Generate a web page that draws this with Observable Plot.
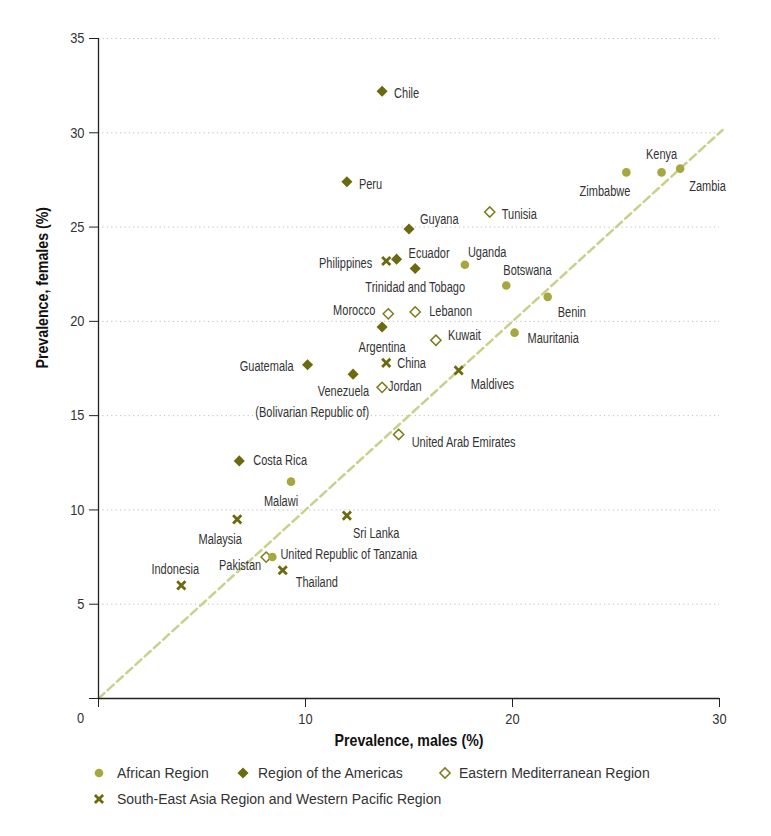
<!DOCTYPE html>
<html>
<head>
<meta charset="utf-8">
<script src="https://cdn.jsdelivr.net/npm/d3@7"></script>
<script src="https://cdn.jsdelivr.net/npm/@observablehq/plot@0.6"></script>
<style>
  body { margin: 0; background: #fff; }
  #wrap { position: relative; width: 771px; height: 836px; }
  .leg { position: absolute; font-family: "Liberation Sans", Arial, sans-serif; font-size: 14px; color: #333; line-height: 16px; white-space: nowrap; }
</style>
</head>
<body>
<div id="wrap"></div>
<script>
// ---- data ----
const regions = ["African Region", "Region of the Americas", "Eastern Mediterranean Region", "South-East Asia Region and Western Pacific Region"];

const africanCountries = ["Zimbabwe", "Kenya", "Zambia", "Uganda", "Botswana", "Benin", "Mauritania", "Malawi", "United Republic of Tanzania"];
const africanMales     = [25.5, 27.2, 28.1, 17.7, 19.7, 21.7, 20.1, 9.3, 8.4];
const africanFemales   = [27.9, 27.9, 28.1, 23.0, 21.9, 21.3, 19.4, 11.5, 7.5];

const americasCountries = ["Chile", "Peru", "Guyana", "Ecuador", "Trinidad and Tobago", "Argentina", "Guatemala", "Venezuela\n(Bolivarian Republic of)", "Costa Rica"];
const americasMales     = [13.7, 12.0, 15.0, 14.4, 15.3, 13.7, 10.1, 12.3, 6.8];
const americasFemales   = [32.2, 27.4, 24.9, 23.3, 22.8, 19.7, 17.7, 17.2, 12.6];

const emrCountries = ["Tunisia", "Morocco", "Lebanon", "Kuwait", "Jordan", "United Arab Emirates", "Pakistan"];
const emrMales     = [18.9, 14.0, 15.3, 16.3, 13.7, 14.5, 8.1];
const emrFemales   = [25.8, 20.4, 20.5, 19.0, 16.5, 14.0, 7.5];

const seaCountries = ["Philippines", "China", "Maldives", "Sri Lanka", "Malaysia", "Thailand", "Indonesia"];
const seaMales     = [13.9, 13.9, 17.4, 12.0, 6.7, 8.9, 4.0];
const seaFemales   = [23.2, 17.8, 17.4, 9.7, 9.5, 6.8, 6.0];

const yTicks = [5, 10, 15, 20, 25, 30, 35];
const xTicks = [10, 20, 30];
const xLabel = "Prevalence, males (%)";
const yLabel = "Prevalence, females (%)";

// ---- label placement (offset px from point, text anchor) ----
const labelPlacement = {
  "Chile": [12, 0, "start"], "Peru": [12, 0, "start"], "Guyana": [11, -12, "start"],
  "Ecuador": [12, -8, "start"], "Philippines": [-14, 0, "end"], "Trinidad and Tobago": [0, 17, "middle"],
  "Uganda": [3, -14, "start"], "Botswana": [-3, -17, "start"], "Zimbabwe": [4, 17, "end"],
  "Kenya": [0, -20, "middle"], "Zambia": [9, 16, "start"], "Benin": [10, 13, "start"],
  "Mauritania": [13, 4, "start"], "Tunisia": [12, 0, "start"], "Morocco": [-13, -6, "end"],
  "Lebanon": [14, -3, "start"], "Argentina": [0, 18, "middle"], "Kuwait": [12, -7, "start"],
  "Guatemala": [-14, 0, "end"], "China": [11, -2, "start"], "Jordan": [6, -3, "start"],
  "Venezuela\n(Bolivarian Republic of)": [16, 25.5, "end"], "Maldives": [12, 12, "start"],
  "United Arab Emirates": [13, 6, "start"], "Costa Rica": [14, -3, "start"],
  "Malawi": [-10, 18, "middle"], "Malaysia": [-17, 18, "middle"], "Sri Lanka": [6, 16, "start"],
  "Pakistan": [-5, 6, "end"], "United Republic of Tanzania": [8, -5, "start"],
  "Thailand": [13, 10, "start"], "Indonesia": [-6, -18, "middle"]
};

// ---- build table ----
function rows(names, xs, ys, region) {
  return names.map((n, i) => ({country: n, males: xs[i], females: ys[i], region}));
}
const afr = rows(africanCountries, africanMales, africanFemales, regions[0]);
const amr = rows(americasCountries, americasMales, americasFemales, regions[1]);
const emr = rows(emrCountries, emrMales, emrFemales, regions[2]);
const sea = rows(seaCountries, seaMales, seaFemales, regions[3]);
const all = [...afr, ...amr, ...emr, ...sea];

const colAfr = "#a6a83f";
const colDark = "#6b6a0f";
const colEmr = "#7c7c1c";
const font = "'Liberation Sans', Arial, sans-serif";

// Plot's dx/dy are constants per mark, so group labels by offset
const offsetGroups = d3.groups(all, d => labelPlacement[d.country].join("|"));
const labels = offsetGroups.map(([key, arr]) => {
  const [dx, dy, anchor] = labelPlacement[arr[0].country];
  return Plot.text(arr, {
    x: "males", y: "females", text: "country",
    dx: +dx, dy: +dy, textAnchor: anchor,
    fill: "#333", fontSize: 15.5, lineHeight: 1.35
  });
});

const chart = Plot.plot({
  width: 771,
  height: 758,
  marginLeft: 98,
  marginRight: 52,
  marginTop: 38,
  marginBottom: 60,
  style: {fontFamily: font, fontSize: "15px", color: "#333", background: "#fff"},
  x: {domain: [0, 30]},
  y: {domain: [0, 35]},
  marks: [
    Plot.ruleY(yTicks, {stroke: "#bdbdbd", strokeDasharray: "1.2,3.2", strokeWidth: 1}),
    Plot.line([[0, 0], [30.15, 30.15]], {stroke: "#c8d18c", strokeWidth: 2.5, strokeDasharray: "8,4.5"}),
    Plot.axisY([0, ...yTicks], {tickSize: 9, tickPadding: 5, tickFormat: d => d === 0 ? "" : d, label: null, stroke: "#222", fill: "#333", fontSize: 15}),
    Plot.axisX([0, ...xTicks], {tickSize: 9, tickPadding: 6, tickFormat: d => d === 0 ? "" : d, label: null, stroke: "#222", fill: "#333", fontSize: 15}),
    Plot.ruleX([0], {stroke: "#222", strokeWidth: 1.3}),
    Plot.ruleY([0], {stroke: "#222", strokeWidth: 1.3}),
    Plot.text([0], {x: 0, y: 0, text: d => String(d), dx: -18, dy: 19.5, fill: "#333", fontSize: 15}),
    Plot.text([xLabel], {frameAnchor: "bottom", dy: 47, text: d => d, fontWeight: "bold", fontSize: 16.5, fill: "#111"}),
    Plot.text([yLabel], {frameAnchor: "left", dx: -56, rotate: -90, text: d => d, fontWeight: "bold", fontSize: 16.5, fill: "#111"}),
    Plot.dot(emr, {x: "males", y: "females", symbol: "diamond2", r: 4.6, stroke: colEmr, strokeWidth: 1.5, fill: "#fff"}),
    Plot.dot(afr, {x: "males", y: "females", symbol: "circle", r: 4.3, fill: colAfr}),
    Plot.dot(amr, {x: "males", y: "females", symbol: "diamond2", r: 5, fill: colDark}),
    Plot.dot(sea, {x: "males", y: "females", symbol: "times", r: 3.8, stroke: colDark, strokeWidth: 2.8}),
    ...labels
  ]
});

// mimic the condensed typeface of the original by narrowing text horizontally
const countrySet = new Set(all.map(d => d.country.replace("\n", "")));
chart.querySelectorAll("text").forEach(t => {
  const content = t.textContent;
  const s = countrySet.has(content) ? 0.71 : 0.86;
  let tr = t.getAttribute("transform");
  if (!tr) {
    const x = t.getAttribute("x") || 0, y = t.getAttribute("y") || 0;
    t.removeAttribute("x"); t.removeAttribute("y");
    tr = `translate(${x},${y})`;
  }
  t.setAttribute("transform", tr + ` scale(${s},1)`);
});

const wrap = document.getElementById("wrap");
wrap.appendChild(chart);

// ---- legend (HTML below the SVG) ----
const legendItems = [
  {label: regions[0], cx: 99, cy: 773, tx: 117, sym: "circle", fill: colAfr, stroke: "none", sw: 0, r: 4.3},
  {label: regions[1], cx: 243, cy: 773, tx: 258, sym: "diamond2", fill: colDark, stroke: "none", sw: 0, r: 5},
  {label: regions[2], cx: 445, cy: 773, tx: 459, sym: "diamond2", fill: "#fff", stroke: colEmr, sw: 1.5, r: 4.6},
  {label: regions[3], cx: 99, cy: 799, tx: 117, sym: "times", fill: "none", stroke: colDark, sw: 2.8, r: 3.8}
];
const symMap = {circle: d3.symbolCircle, diamond2: d3.symbolDiamond2, times: d3.symbolTimes};
for (const it of legendItems) {
  const s = d3.create("svg").attr("width", 16).attr("height", 16)
    .style("position", "absolute").style("left", (it.cx - 8) + "px").style("top", (it.cy - 8) + "px");
  s.append("path").attr("transform", "translate(8,8)")
    .attr("d", d3.symbol(symMap[it.sym], Math.PI * it.r * it.r)())
    .attr("fill", it.fill).attr("stroke", it.stroke).attr("stroke-width", it.sw);
  wrap.appendChild(s.node());
  const t = document.createElement("div");
  t.className = "leg";
  t.textContent = it.label;
  t.style.left = it.tx + "px";
  t.style.top = (it.cy - 8) + "px";
  wrap.appendChild(t);
}
</script>
</body>
</html>
